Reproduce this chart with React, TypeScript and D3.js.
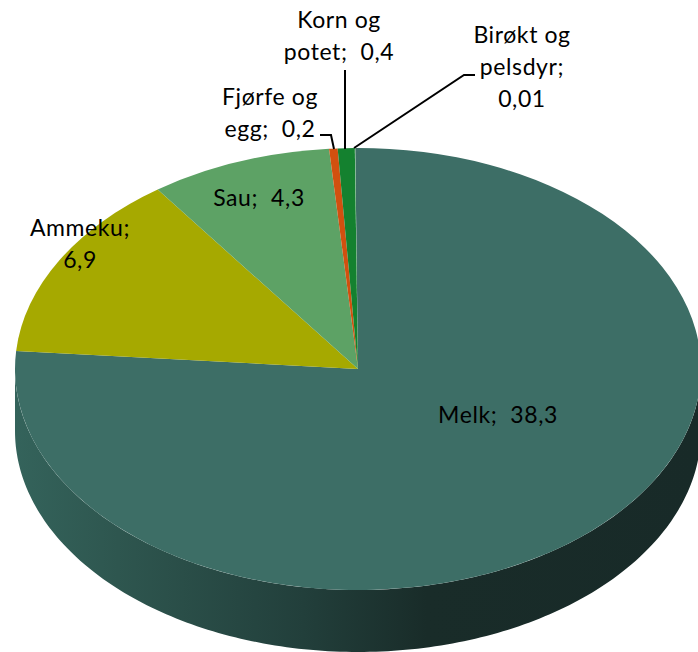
import React from "react";
import * as d3 from "d3";

const categories = ["Melk", "Ammeku", "Sau", "Fjørfe og egg", "Korn og potet", "Birøkt og pelsdyr"];
const values = [38.3, 6.9, 4.3, 0.2, 0.4, 0.01];
const colors = ["#3d6e66", "#a6a900", "#5da265", "#d1500f", "#14812f", "#7fc08a"];

const labelLines = [["Melk;  38,3"], ["Ammeku;", "6,9"], ["Sau;  4,3"], ["Fjørfe og", "egg;  0,2"], ["Korn og", "potet;  0,4"], ["Birøkt og", "pelsdyr;", "0,01"]];
const labelCenters = [[498, 423], [80, 236], [259, 206], [270, 105], [339, 28], [522, 43]];
const leaderLines = [[], [], [], [[320, 135], [331, 135], [334, 149]], [[345, 70], [345, 149]], [[354, 148], [464, 75], [475, 75]]];

const wallStops = [[0, "#34635b"], [0.15, "#2e564f"], [0.42, "#223f3b"], [0.6, "#192c29"], [1, "#182a28"]];

const cx = 358, cy = 369, rx = 343, ry = 221, depth = 62;
const lineHeight = 32;

export default function App() {
  const pie = d3.pie<number>().sort(null).startAngle(-0.008).endAngle(2 * Math.PI - 0.008);
  const arcs = pie(values);
  const arc = d3.arc<d3.PieArcDatum<number>>().innerRadius(0).outerRadius(100);
  const thetas = d3.range(0, 181).map((d) => (d / 180) * Math.PI);
  const xs = d3.scaleLinear().domain([-1, 1]).range([cx - rx, cx + rx]);
  const ys = d3.scaleLinear().domain([-1, 1]).range([cy - ry, cy + ry]);
  const wall = d3.area<number>()
    .x((t) => xs(Math.cos(t)))
    .y0((t) => ys(Math.sin(t)))
    .y1((t) => ys(Math.sin(t)) + depth)
    .curve(d3.curveLinear);
  const leader = d3.line();
  return (
    <svg width={698} height={652} style={{ position: "absolute", left: 0, top: 0 }} fontFamily="Lato, 'Open Sans', sans-serif" fontSize={23} letterSpacing={0.6}>
      <defs>
        <linearGradient id="wall" gradientUnits="userSpaceOnUse" x1={cx - rx} x2={cx + rx} y1={0} y2={0}>
          {wallStops.map(([o, c]) => <stop key={o as number} offset={o as number} stopColor={c as string} />)}
        </linearGradient>
      </defs>
      <path d={wall(thetas) ?? ""} fill="url(#wall)" />
      <g transform={`translate(${cx},${cy}) scale(${rx / 100},${ry / 100})`}>
        {arcs.map((a, i) => <path key={categories[i]} d={arc(a) ?? ""} fill={colors[i]} />)}
      </g>
      {leaderLines.map((l, i) => l.length > 0 && (
        <path key={i} d={leader(l as [number, number][]) ?? ""} fill="none" stroke="#000" strokeWidth={2} />
      ))}
      {labelLines.map((lines, i) => (
        <text key={i} textAnchor="middle" fill="#000">
          {lines.map((t, j) => (
            <tspan key={j} x={labelCenters[i][0]} y={labelCenters[i][1] + j * lineHeight} style={{ whiteSpace: "pre" }}>{t}</tspan>
          ))}
        </text>
      ))}
    </svg>
  );
}
